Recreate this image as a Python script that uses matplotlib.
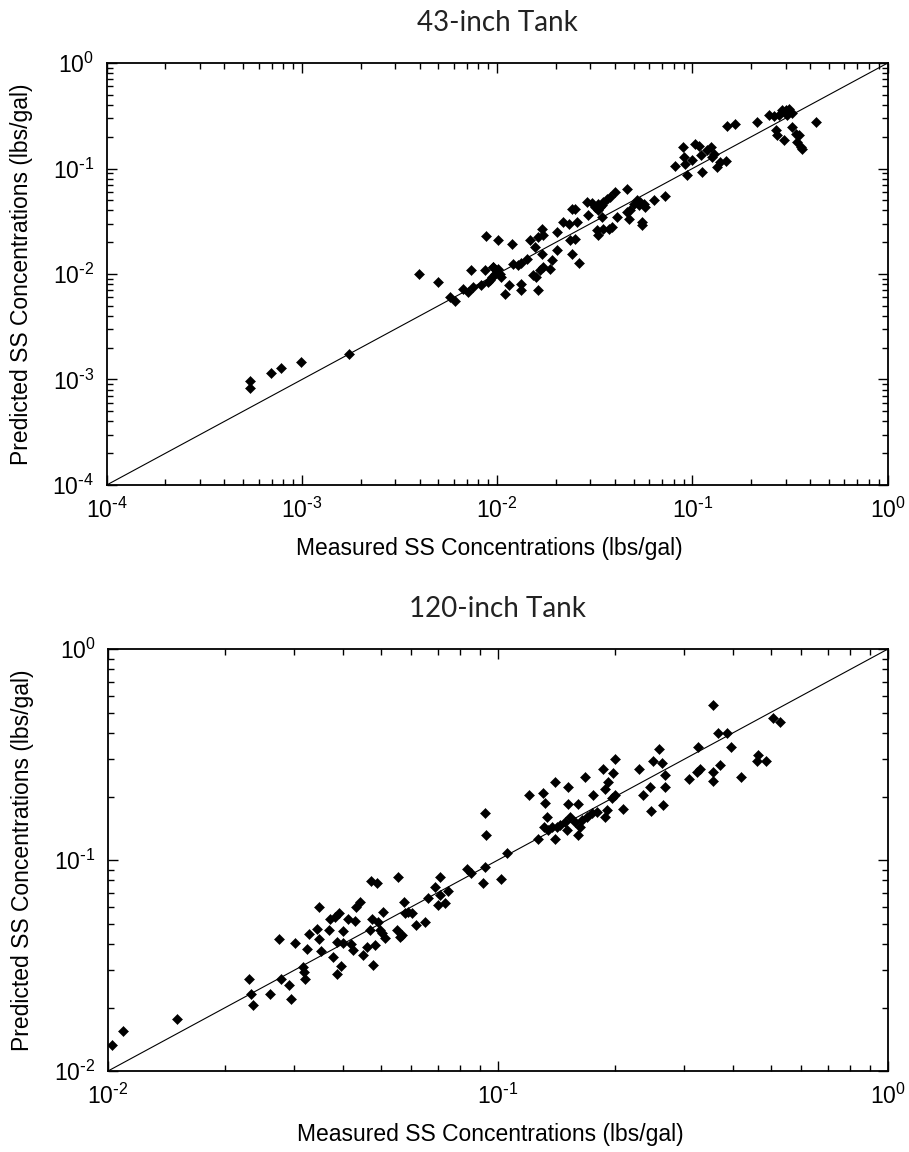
import matplotlib
matplotlib.use("Agg")
from matplotlib import pyplot as plt
from matplotlib.ticker import LogLocator, NullFormatter, FuncFormatter
import numpy as np

# 43-inch tank: measured vs predicted SS concentration (lbs/gal)
x43 = [5.4e-4, 5.4e-4, 6.9e-4, 7.8e-4, 9.9e-4, 1.75e-3, 3.96e-3, 5.0e-3, 8.8e-3, 7.3e-3,
       8.7e-3, 9.5e-3, 9.75e-3, 9.4e-3, 9.0e-3, 8.3e-3, 7.55e-3, 7.1e-3, 6.65e-3, 6.1e-3,
       5.73e-3, 1.01e-2, 1.19e-2, 9.2e-3, 9.5e-3, 9.9e-3, 1.03e-2, 1.01e-2, 1.05e-2, 1.09e-2,
       1.15e-2, 1.21e-2, 1.28e-2, 1.33e-2, 1.42e-2, 1.33e-2, 1.33e-2, 1.47e-2, 1.56e-2, 1.62e-2,
       1.69e-2, 1.72e-2, 1.53e-2, 1.58e-2, 1.62e-2, 1.66e-2, 1.69e-2, 1.72e-2, 1.87e-2, 1.90e-2,
       2.02e-2, 2.02e-2, 2.18e-2, 2.32e-2, 2.36e-2, 2.41e-2, 2.56e-2, 2.61e-2, 2.51e-2, 2.41e-2,
       2.51e-2, 2.88e-2, 2.93e-2, 3.05e-2, 3.17e-2, 3.30e-2, 3.37e-2, 3.44e-2, 3.50e-2, 3.65e-2,
       3.79e-2, 4.02e-2, 3.24e-2, 3.30e-2, 3.50e-2, 3.72e-2, 3.87e-2, 4.10e-2, 4.62e-2, 4.62e-2,
       4.80e-2, 4.71e-2, 5.00e-2, 5.20e-2, 5.30e-2, 5.41e-2, 5.62e-2, 5.74e-2, 5.51e-2, 5.51e-2,
       6.33e-2, 7.27e-2, 3.30e-2, 3.44e-2, 8.18e-2, 8.95e-2, 9.10e-2, 9.2e-2, 9.4e-2, 0.1035,
       0.108, 0.110, 0.112, 0.124, 0.126, 0.129, 0.134, 0.139, 0.148, 0.151,
       0.166, 0.215, 0.247, 0.262, 0.267, 0.277, 0.289, 0.300, 0.313, 0.325,
       0.306, 0.272, 0.294, 0.325, 0.338, 0.352, 0.345, 0.359, 0.366, 0.428,
       0.100, 0.118]
y43 = [9.7e-4, 8.3e-4, 1.14e-3, 1.29e-3, 1.48e-3, 1.76e-3, 1.0e-2, 8.4e-3, 2.29e-2, 1.10e-2,
       1.10e-2, 1.16e-2, 1.0e-2, 9.4e-3, 8.4e-3, 7.8e-3, 7.5e-3, 6.75e-3, 7.26e-3, 5.6e-3,
       6.05e-3, 2.08e-2, 1.94e-2, 8.7e-3, 1.17e-2, 1.08e-2, 1.01e-2, 1.12e-2, 9.4e-3, 6.5e-3,
       7.8e-3, 1.25e-2, 1.21e-2, 1.27e-2, 1.40e-2, 8.1e-3, 7.1e-3, 2.12e-2, 1.80e-2, 2.24e-2,
       2.69e-2, 2.32e-2, 9.7e-3, 9.4e-3, 7.1e-3, 1.08e-2, 1.56e-2, 1.17e-2, 1.12e-2, 1.35e-2,
       1.68e-2, 2.50e-2, 3.11e-2, 3.00e-2, 2.08e-2, 1.56e-2, 3.11e-2, 1.27e-2, 2.16e-2, 4.16e-2,
       4.16e-2, 4.81e-2, 3.60e-2, 4.71e-2, 4.32e-2, 4.01e-2, 4.32e-2, 3.47e-2, 4.81e-2, 5.18e-2,
       5.37e-2, 5.99e-2, 2.59e-2, 2.32e-2, 2.69e-2, 2.69e-2, 2.79e-2, 3.47e-2, 6.44e-2, 3.87e-2,
       4.01e-2, 3.34e-2, 4.64e-2, 4.99e-2, 4.48e-2, 4.81e-2, 4.64e-2, 4.32e-2, 3.11e-2, 2.89e-2,
       4.99e-2, 5.45e-2, 4.64e-2, 4.48e-2, 0.105, 0.160, 0.128, 0.111, 0.0861, 0.172,
       0.162, 0.133, 0.0927, 0.160, 0.128, 0.138, 0.103, 0.115, 0.119, 0.251,
       0.262, 0.276, 0.319, 0.312, 0.230, 0.319, 0.356, 0.361, 0.369, 0.336,
       0.319, 0.206, 0.185, 0.247, 0.214, 0.206, 0.178, 0.160, 0.154, 0.276,
       0.120, 0.150]

# 120-inch tank
x120 = [0.01026, 0.0109, 0.0150, 0.0230, 0.0233, 0.0235, 0.0261, 0.0275, 0.0277, 0.0292,
        0.0294, 0.0302, 0.0317, 0.0320, 0.0318, 0.0323, 0.0328, 0.0344, 0.0347, 0.0348,
        0.0351, 0.0369, 0.0372, 0.0378, 0.0382, 0.0386, 0.0387, 0.0392, 0.0397, 0.0401,
        0.0401, 0.0413, 0.0419, 0.0424, 0.0430, 0.0432, 0.0443, 0.0450, 0.0461, 0.0470,
        0.0472, 0.0474, 0.0477, 0.0484, 0.0489, 0.0493, 0.0498, 0.0503, 0.0508, 0.0513,
        0.0550, 0.0555, 0.0561, 0.0566, 0.0574, 0.0577, 0.0589, 0.0601, 0.0618, 0.0650,
        0.0662, 0.0689, 0.0703, 0.0710, 0.0710, 0.0731, 0.0746, 0.0832, 0.0855, 0.0917,
        0.0926, 0.0931, 0.0926,
        0.1016, 0.1056, 0.1203, 0.1269, 0.1302, 0.1320, 0.1333, 0.1312, 0.1346, 0.1373,
        0.1400, 0.1400, 0.1414, 0.1442, 0.1485, 0.1500, 0.1515, 0.1515, 0.1530, 0.1576,
        0.1607, 0.1607, 0.1623, 0.1639, 0.1671, 0.1688, 0.1738, 0.1755, 0.1790, 0.1862,
        0.1881, 0.1881, 0.1900, 0.1918, 0.1956, 0.1975, 0.1995, 0.1995, 0.2096, 0.2304,
        0.2350, 0.2453, 0.2468, 0.2492, 0.2587, 0.2628, 0.2644, 0.2680, 0.2680, 0.3094,
        0.3231, 0.3263, 0.3296, 0.3552, 0.3552, 0.3565, 0.3673, 0.3708, 0.3856, 0.3952,
        0.4198, 0.4605, 0.4651, 0.4865, 0.5079, 0.5284]
y120 = [0.0133, 0.0155, 0.0176, 0.0273, 0.0233, 0.0205, 0.0233, 0.0422, 0.0273, 0.0256,
        0.0219, 0.0406, 0.0312, 0.0273, 0.0296, 0.0379, 0.0445, 0.0471, 0.0601, 0.0422,
        0.0370, 0.0466, 0.0524, 0.0348, 0.0535, 0.0287, 0.0410, 0.0559, 0.0316, 0.0463,
        0.0403, 0.0524, 0.0400, 0.0374, 0.0514, 0.0601, 0.0635, 0.0355, 0.0388, 0.0466,
        0.0798, 0.0524, 0.0318, 0.0396, 0.0775, 0.0510, 0.0466, 0.0449, 0.0569, 0.0425,
        0.0466, 0.0834, 0.0433, 0.0441, 0.0635, 0.0559, 0.0569, 0.0559, 0.0492, 0.0510,
        0.0658, 0.0748, 0.0612, 0.0834, 0.0683, 0.0623, 0.0713, 0.0903, 0.0871, 0.0781,
        0.1676, 0.1314, 0.0930,
        0.0810, 0.1075, 0.2032, 0.1257, 0.2086, 0.1856, 0.1605, 0.1438, 0.1387, 0.1438,
        0.2351, 0.1257, 0.1438, 0.1465, 0.1520, 0.1387, 0.2227, 0.1842, 0.1605, 0.1520,
        0.1842, 0.1314, 0.1438, 0.1548, 0.2483, 0.1605, 0.1664, 0.2032, 0.1695, 0.2689,
        0.2162, 0.1605, 0.1725, 0.2351, 0.1960, 0.2575, 0.3000, 0.2032, 0.1738, 0.2689,
        0.2032, 0.2227, 0.1713, 0.2955, 0.3346, 0.2890, 0.1822, 0.2529, 0.2210, 0.2411,
        0.2622, 0.3445, 0.2689, 0.5410, 0.2377, 0.2622, 0.4010, 0.2819, 0.4010, 0.3445,
        0.2483, 0.2945, 0.3145, 0.2945, 0.4690, 0.4530]

plt.rcParams['font.family'] = ['Liberation Sans', 'DejaVu Sans']
plt.rcParams['font.size'] = 16.5
plt.rcParams['axes.linewidth'] = 1.3


def decadeLabel(v, pos):
    # short hyphen in the exponent, like the original figure
    e = int(round(np.log10(v)))
    if e < 0:
        return r'$\mathdefault{10^{\text{-}%d}}$' % (-e)
    return r'$\mathdefault{10^{%d}}$' % e


def tankPanel(ax, x, y, lo, title):
    ax.plot([lo, 1.0], [lo, 1.0], color='black', linewidth=0.8)
    ax.plot(x, y, linestyle='none', marker='D', markersize=4.7,
            color='black', markeredgewidth=0.4)
    ax.set_xscale('log')
    ax.set_yscale('log')
    ax.set_xlim(lo, 1.0)
    ax.set_ylim(lo, 1.0)
    for axis in (ax.xaxis, ax.yaxis):
        axis.set_major_locator(LogLocator(base=10))
        axis.set_minor_locator(LogLocator(base=10, subs=np.arange(2, 10), numticks=20))
        axis.set_minor_formatter(NullFormatter())
        axis.set_major_formatter(FuncFormatter(decadeLabel))
    ax.tick_params(which='both', direction='in', top=True, right=True, width=1.0)
    ax.tick_params(which='major', length=7, pad=9)
    ax.tick_params(which='minor', length=4)
    ax.set_xlabel('Measured SS Concentrations (lbs/gal)', va='center')
    ax.set_ylabel('Predicted SS Concentrations (lbs/gal)', va='center')
    ax.xaxis.set_label_coords(0.49, -0.15)
    ax.yaxis.set_label_coords(-0.109, 0.5)
    ax.set_title(title, fontsize=20, family=['Lato', 'DejaVu Sans'],
                 color='#222222', pad=23)


fig = plt.figure(figsize=(9.09, 11.52), dpi=100)
ax1 = fig.add_axes([0.1174, 0.5790, 0.8592, 0.3663])
ax2 = fig.add_axes([0.1188, 0.0703, 0.8580, 0.3663])

tankPanel(ax1, x43, y43, 1e-4, '43-inch Tank')
tankPanel(ax2, x120, y120, 1e-2, '120-inch Tank')

plt.savefig('out.png', dpi=100)
plt.close(fig)
